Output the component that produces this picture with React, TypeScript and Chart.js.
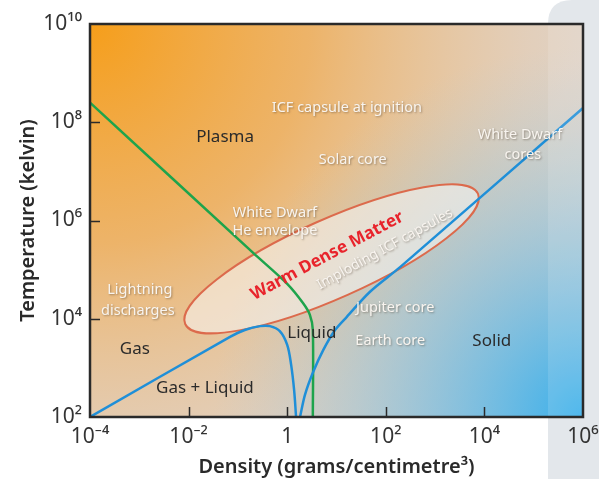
import React, { useEffect, useRef } from "react";
import { Chart, registerables } from "chart.js";

Chart.register(...registerables);

// ---------- axis ticks ----------
const X_TICKS = [1e-4, 1e-2, 1, 1e2, 1e4, 1e6];
const X_TICK_LABELS = ["10⁻⁴", "10⁻²", "1", "10²", "10⁴", "10⁶"];
const Y_TICKS = [1e2, 1e4, 1e6, 1e8, 1e10];
const Y_TICK_LABELS = ["10²", "10⁴", "10⁶", "10⁸", "10¹⁰"];
const X_INNER_TICKS = [1e-2, 1, 1e2, 1e4];
const Y_INNER_TICKS = [1e4, 1e6, 1e8];

// ---------- curves (log10 density, log10 temperature) ----------
const GAS_LIQUID_LOGRHO = [-4, -1.16, -0.86, -0.55, -0.35, -0.15, 0.0, 0.08, 0.14, 0.18];
const GAS_LIQUID_LOGT = [2.0, 3.63, 3.77, 3.85, 3.85, 3.75, 3.47, 3.06, 2.55, 2.0];

const MELT_LOGRHO = [0.26, 0.36, 0.52, 0.73, 0.97, 1.21, 1.68, 2.29, 6.0];
const MELT_LOGT = [2.0, 2.45, 2.9, 3.36, 3.77, 4.04, 4.55, 5.05, 8.29];

const IONIZ_LOGRHO = [-4, -0.69, 0.0, 0.32, 0.46, 0.52, 0.52];
const IONIZ_LOGT = [8.4, 5.34, 4.71, 4.32, 4.08, 3.77, 2.0];

// ---------- warm dense matter ellipse ----------
const WDM_CENTER_LOGRHO = 0.9;
const WDM_CENTER_LOGT = 5.22;
const WDM_SEMI_MAJOR = 3.25; // decades
const WDM_SEMI_MINOR = 0.8; // decades
const WDM_ANGLE_DEG = 24;

// ---------- labels ----------
const LABELS = [
  "ICF capsule at ignition",
  "Plasma",
  "Solar core",
  "White Dwarf",
  "cores",
  "White Dwarf",
  "He envelope",
  "Lightning",
  "discharges",
  "Gas",
  "Liquid",
  "Jupiter core",
  "Earth core",
  "Solid",
  "Gas + Liquid",
];
const LABEL_LOGRHO = [1.21, -1.26, 1.33, 4.72, 4.78, -0.25, -0.25, -2.99, -3.03, -3.09, 0.5, 2.19, 2.09, 4.15, -1.67];
const LABEL_LOGT = [8.29, 7.7, 7.23, 7.74, 7.34, 6.15, 5.79, 4.59, 4.16, 3.38, 3.71, 4.22, 3.55, 3.55, 2.59];
const LABEL_DARK = [false, true, false, false, false, false, false, false, false, true, true, false, false, true, true];

const ROT_LABELS = ["Warm Dense Matter", "Imploding ICF capsules"];
const ROT_LOGRHO = [0.81, 1.98];
const ROT_LOGT = [5.28, 5.42];
const ROT_ANGLE_DEG = [28, 29];

const FONT = "'Noto Sans', 'DejaVu Sans', sans-serif";

function toPoints(lx: number[], ly: number[]) {
  return lx.map((v, i) => ({ x: Math.pow(10, v), y: Math.pow(10, ly[i]) }));
}

function labelFor(ticks: number[], labels: string[], v: number) {
  const i = ticks.findIndex((t) => Math.abs(Math.log10(t) - Math.log10(v)) < 1e-6);
  return i >= 0 ? labels[i] : "";
}

const backgroundPlugin = {
  id: "bg",
  beforeDraw(chart: any) {
    const { ctx, chartArea: a, width, height } = chart;
    ctx.save();
    ctx.fillStyle = "#ffffff";
    ctx.fillRect(0, 0, width, height);
    // grey side panel
    ctx.fillStyle = "#e3e7eb";
    ctx.beginPath();
    const px = 548;
    const r = 24;
    ctx.moveTo(px, height);
    ctx.lineTo(px, r);
    ctx.quadraticCurveTo(px, 0, px + r, 0);
    ctx.lineTo(width, 0);
    ctx.lineTo(width, height);
    ctx.closePath();
    ctx.fill();
    // plot background
    ctx.fillStyle = "#dad6d4";
    ctx.fillRect(a.left, a.top, a.right - a.left, a.bottom - a.top);
    const og = ctx.createRadialGradient(a.left, a.top, 0, a.left, a.top, 670);
    og.addColorStop(0, "rgba(246,158,26,1)");
    og.addColorStop(0.33, "rgba(241,172,82,0.82)");
    og.addColorStop(0.66, "rgba(238,196,150,0.4)");
    og.addColorStop(1, "rgba(232,212,192,0)");
    ctx.fillStyle = og;
    ctx.fillRect(a.left, a.top, a.right - a.left, a.bottom - a.top);
    const bg = ctx.createRadialGradient(a.right, a.bottom, 0, a.right, a.bottom, 370);
    bg.addColorStop(0, "rgba(55,175,235,1)");
    bg.addColorStop(0.4, "rgba(100,185,230,0.6)");
    bg.addColorStop(1, "rgba(170,205,225,0)");
    ctx.fillStyle = bg;
    ctx.fillRect(a.left, a.top, a.right - a.left, a.bottom - a.top);
    ctx.restore();
  },
  beforeDatasetsDraw(chart: any) {
    const { ctx, scales } = chart;
    const x = scales.x;
    const y = scales.y;
    const cx = x.getPixelForValue(Math.pow(10, WDM_CENTER_LOGRHO));
    const cy = y.getPixelForValue(Math.pow(10, WDM_CENTER_LOGT));
    const pxDec = x.getPixelForValue(10) - x.getPixelForValue(1);
    ctx.save();
    ctx.beginPath();
    ctx.ellipse(cx, cy, WDM_SEMI_MAJOR * pxDec, WDM_SEMI_MINOR * pxDec, (-WDM_ANGLE_DEG * Math.PI) / 180, 0, Math.PI * 2);
    ctx.fillStyle = "rgba(248,246,244,0.55)";
    ctx.fill();
    ctx.lineWidth = 2;
    ctx.strokeStyle = "#dc6a4c";
    ctx.stroke();
    ctx.restore();
  },
  afterDatasetsDraw(chart: any) {
    const { ctx, scales, chartArea: a } = chart;
    const x = scales.x;
    const y = scales.y;
    ctx.save();
    ctx.textAlign = "center";
    ctx.textBaseline = "middle";
    LABELS.forEach((t, i) => {
      const px = x.getPixelForValue(Math.pow(10, LABEL_LOGRHO[i]));
      const py = y.getPixelForValue(Math.pow(10, LABEL_LOGT[i]));
      if (LABEL_DARK[i]) {
        ctx.shadowColor = "transparent";
        ctx.fillStyle = "#2b2b2b";
        ctx.font = `17px ${FONT}`;
      } else {
        ctx.shadowColor = "rgba(70,55,40,0.45)";
        ctx.shadowBlur = 2;
        ctx.shadowOffsetX = 1;
        ctx.shadowOffsetY = 1;
        ctx.fillStyle = "#f8f4ef";
        ctx.font = `14.5px ${FONT}`;
      }
      ctx.fillText(t, px, py);
    });
    ROT_LABELS.forEach((t, i) => {
      const px = x.getPixelForValue(Math.pow(10, ROT_LOGRHO[i]));
      const py = y.getPixelForValue(Math.pow(10, ROT_LOGT[i]));
      ctx.save();
      ctx.translate(px, py);
      ctx.rotate((-ROT_ANGLE_DEG[i] * Math.PI) / 180);
      if (i === 0) {
        ctx.shadowColor = "transparent";
        ctx.fillStyle = "#e8242c";
        ctx.font = `bold 17px ${FONT}`;
      } else {
        ctx.shadowColor = "rgba(70,55,40,0.45)";
        ctx.shadowBlur = 2;
        ctx.shadowOffsetX = 1;
        ctx.shadowOffsetY = 1;
        ctx.fillStyle = "#f8f4ef";
        ctx.font = `14px ${FONT}`;
      }
      ctx.fillText(t, 0, 0);
      ctx.restore();
    });
    ctx.shadowColor = "transparent";
    // panel fade over plot
    ctx.fillStyle = "rgba(255,255,255,0.12)";
    ctx.fillRect(548, a.top, a.right - 548, a.bottom - a.top);
    // inner ticks
    ctx.strokeStyle = "#2a2a2a";
    ctx.lineWidth = 1.5;
    ctx.beginPath();
    X_INNER_TICKS.forEach((v) => {
      const px = Math.round(x.getPixelForValue(v)) + 0.5;
      ctx.moveTo(px, a.bottom);
      ctx.lineTo(px, a.bottom - 10);
    });
    Y_INNER_TICKS.forEach((v) => {
      const py = Math.round(y.getPixelForValue(v)) + 0.5;
      ctx.moveTo(a.left, py);
      ctx.lineTo(a.left + 10, py);
    });
    ctx.stroke();
    // frame
    ctx.lineWidth = 2.5;
    ctx.strokeRect(a.left, a.top, a.right - a.left, a.bottom - a.top);
    ctx.restore();
  },
};

export default function App() {
  const ref = useRef<HTMLCanvasElement | null>(null);
  useEffect(() => {
    document.body.style.margin = "0";
    const canvas = ref.current;
    if (!canvas) return;
    const lineStyle = {
      showLine: true,
      pointRadius: 0,
      borderWidth: 2.5,
      fill: false,
    };
    const chart = new Chart(canvas, {
      type: "scatter",
      data: {
        datasets: [
          {
            ...lineStyle,
            label: "Gas–liquid boundary",
            data: toPoints(GAS_LIQUID_LOGRHO, GAS_LIQUID_LOGT),
            borderColor: "#1f8fd8",
            tension: 0.35,
          },
          {
            ...lineStyle,
            label: "Melting curve",
            data: toPoints(MELT_LOGRHO, MELT_LOGT),
            borderColor: "#1f8fd8",
            tension: 0.3,
          },
          {
            ...lineStyle,
            label: "Ionisation",
            data: toPoints(IONIZ_LOGRHO, IONIZ_LOGT),
            borderColor: "#1ea44c",
            tension: 0.3,
          },
        ],
      },
      options: {
        responsive: false,
        animation: false,
        devicePixelRatio: 1,
        layout: { padding: { left: 0, right: 16, top: 24, bottom: 0 }, autoPadding: false },
        plugins: { legend: { display: false }, tooltip: { enabled: false } },
        scales: {
          x: {
            type: "logarithmic",
            min: 1e-4,
            max: 1e6,
            afterBuildTicks: (s: any) => {
              s.ticks = X_TICKS.map((v) => ({ value: v }));
            },
            afterFit: (s: any) => {
              s.height = 62;
              s.paddingLeft = 0;
              s.paddingRight = 0;
            },
            ticks: {
              autoSkip: false,
              maxRotation: 0,
              padding: 7,
              color: "#333333",
              font: { family: FONT, size: 21 },
              callback: (v: any) => labelFor(X_TICKS, X_TICK_LABELS, Number(v)),
            },
            grid: { display: false, drawTicks: false },
            border: { display: false },
            title: {
              display: true,
              text: "Density (grams/centimetre³)",
              color: "#2a2a2a",
              font: { family: FONT, size: 20, weight: "600" },
              padding: { top: 0, bottom: 0 },
            },
          },
          y: {
            type: "logarithmic",
            min: 1e2,
            max: 1e10,
            afterBuildTicks: (s: any) => {
              s.ticks = Y_TICKS.map((v) => ({ value: v }));
            },
            afterFit: (s: any) => {
              s.width = 90;
              s.paddingTop = 0;
              s.paddingBottom = 0;
            },
            ticks: {
              autoSkip: false,
              padding: 8,
              color: "#333333",
              font: { family: FONT, size: 21 },
              callback: (v: any) => labelFor(Y_TICKS, Y_TICK_LABELS, Number(v)),
            },
            grid: { display: false, drawTicks: false },
            border: { display: false },
            title: {
              display: true,
              text: "Temperature (kelvin)",
              color: "#2a2a2a",
              font: { family: FONT, size: 20, weight: "600" },
              padding: { top: 16, bottom: 0 },
            },
          },
        },
      } as any,
      plugins: [backgroundPlugin],
    });
    return () => chart.destroy();
  }, []);
  return (
    <div style={{ width: 599, height: 479 }}>
      <canvas ref={ref} width={599} height={479} style={{ display: "block" }} />
    </div>
  );
}
